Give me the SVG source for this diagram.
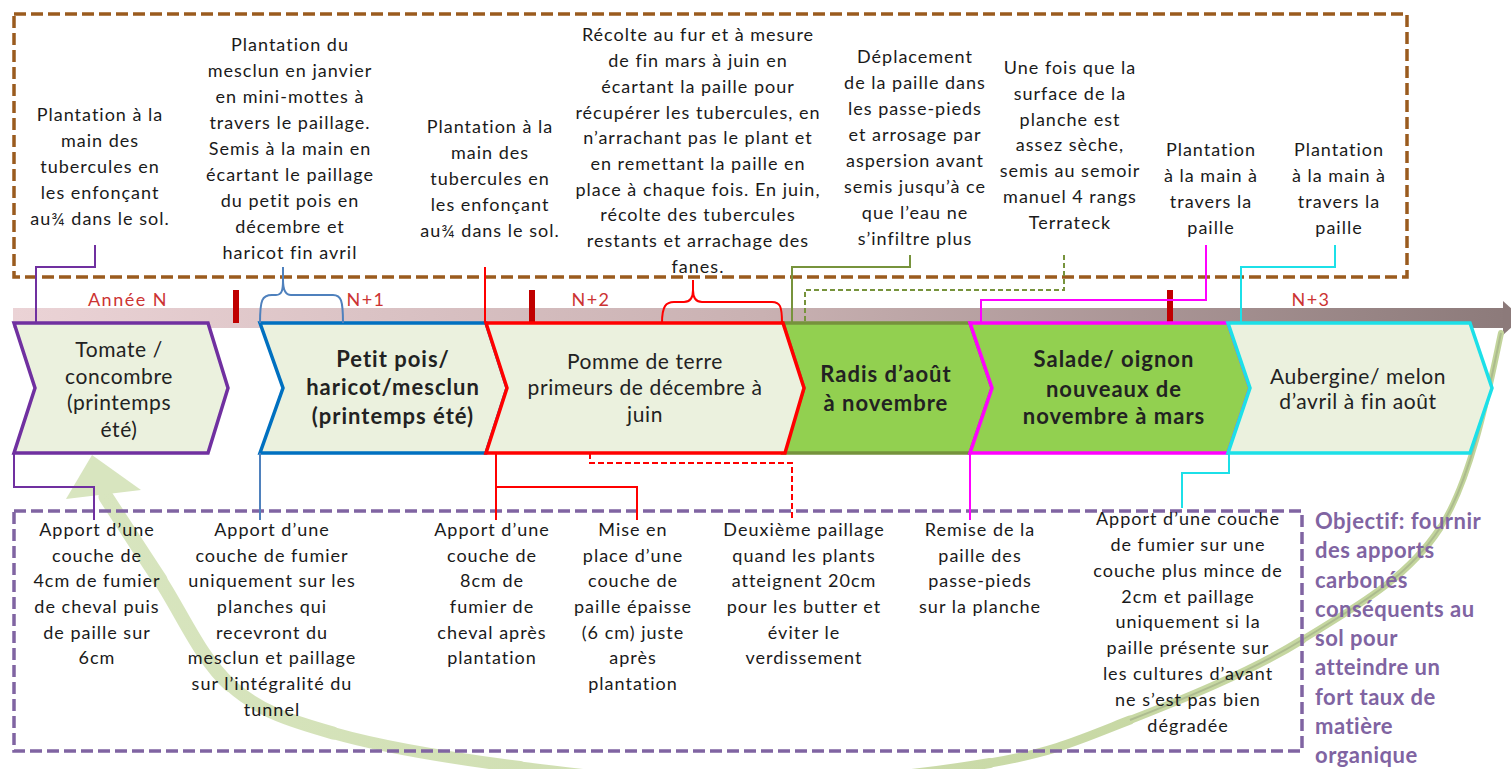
<svg xmlns="http://www.w3.org/2000/svg" width="1511" height="769" viewBox="0 0 1511 769">
<defs>
<linearGradient id="band" x1="13" y1="0" x2="1511" y2="0" gradientUnits="userSpaceOnUse">
<stop offset="0" stop-color="#EBD3D6"/>
<stop offset="0.5" stop-color="#C9B1B2"/>
<stop offset="1" stop-color="#8C7A7A"/>
</linearGradient>
<linearGradient id="curve" x1="100" y1="0" x2="1500" y2="0" gradientUnits="userSpaceOnUse">
<stop offset="0" stop-color="#D8E5BF"/>
<stop offset="1" stop-color="#C2D49B"/>
</linearGradient>
</defs>
<style>
.ann{font-family:Lato,"Liberation Sans",sans-serif;font-size:18px;letter-spacing:1px;fill:#1a1a1a;text-anchor:middle}
.chv{font-family:Lato,"Liberation Sans",sans-serif;font-size:21px;letter-spacing:0.6px;fill:#222;text-anchor:middle}
.chb{font-weight:bold;font-size:22px;letter-spacing:1px}
.year{font-family:Lato,"Liberation Sans",sans-serif;font-size:18px;letter-spacing:1.5px;fill:#CC3333;text-anchor:middle}
.obj{font-family:Lato,"Liberation Sans",sans-serif;font-size:22px;font-weight:bold;letter-spacing:0.5px;fill:#8064A2}
.cv{fill:none;stroke:url(#curve);stroke-linecap:round}
.conn path{fill:none;stroke-width:2}
.chev{stroke-width:3.5;stroke-linejoin:miter}
.light{fill:#EBF1DE}
.green{fill:#92D050}
.box{fill:none;stroke-width:3.5;stroke-dasharray:12 5}
.tick{fill:#C00000}
</style>
<rect x="0" y="0" width="1511" height="769" fill="#ffffff"/>

<!-- timeline band -->
<g id="timeline">
<rect x="13" y="308" width="1492" height="20" fill="url(#band)"/>
<polygon points="1503,301 1522,318 1503,335" fill="#8C7A7A"/>
<rect class="tick" x="233" y="290" width="6" height="33"/>
<rect class="tick" x="529" y="290" width="6" height="33"/>
<rect class="tick" x="1167" y="290" width="6" height="33"/>
<text class="year" x="128" y="306">Année N</text>
<text class="year" x="366" y="306">N+1</text>
<text class="year" x="591" y="306">N+2</text>
<text class="year" x="1311" y="306">N+3</text>
</g>

<!-- green cycle arrow -->
<g id="cycle">
<path class="cv" stroke-width="6" d="M1501,333 C1491,379.3 1473.2,476.8 1440,528"/>
<path class="cv" stroke-width="7" d="M1440,528 C1406.8,579.2 1353.7,608 1302,640"/>
<path class="cv" stroke-width="8" d="M1302,640 C1250.3,672 1182,699.5 1130,720"/>
<path class="cv" stroke-width="9" d="M1130,720 C1078,740.5 1053.3,752.2 990,763"/>
<path class="cv" stroke-width="10" d="M990,763 C926.7,773.8 828.3,784.3 750,785"/>
<path class="cv" stroke-width="11" d="M750,785 C671.7,785.7 589.5,775.7 520,767"/>
<path class="cv" stroke-width="12" d="M520,767 C450.5,758.3 381.3,746.7 333,733"/>
<path class="cv" stroke-width="13" d="M333,733 C284.7,719.3 258.8,710.5 230,685"/>
<path class="cv" stroke-width="14" d="M230,685 C201.2,659.5 180.7,611.3 160,580"/>
<path class="cv" stroke-width="15" d="M160,580 C139.3,548.7 124,524.7 106,497"/>
<path fill="none" stroke="#9DAA84" stroke-width="2" opacity="0.6" d="M1501,333 C1491,379.3 1473.2,476.8 1440,528 C1406.8,579.2 1353.7,608 1302,640 C1250.3,672 1182,699.5 1130,720"/>
<polygon points="92,455 141,490 66,499" fill="#D8E5BF"/>
</g>

<!-- dashed boxes -->
<rect id="box-top" class="box" x="14" y="14" width="1393" height="263" stroke="#9A5B1E"/>
<rect id="box-bottom" class="box" x="14" y="511" width="1288" height="240" stroke="#8064A2"/>

<!-- chevrons -->
<g id="n-tomate">
<polygon class="chev light" stroke="#7030A0" points="14,323 208,323 228,388 208,453 14,453 35,388"/>
<text class="chv"><tspan x="119" y="357">Tomate /</tspan><tspan x="119" y="384">concombre</tspan><tspan x="119" y="410">(printemps</tspan><tspan x="119" y="437">été)</tspan></text>
</g>
<g id="n-petitpois">
<polygon class="chev light" stroke="#0070C0" points="260,323 486,323 507,388 486,453 260,453 283,388"/>
<text class="chv chb"><tspan x="393" y="367">Petit pois/</tspan><tspan x="393" y="395">haricot/mesclun</tspan><tspan x="393" y="424">(printemps été)</tspan></text>
</g>
<g id="n-radis">
<polygon class="chev green" stroke="#76923C" stroke-width="3" points="783,323 970,323 992,388 970,453 783,453 804,388"/>
<text class="chv chb"><tspan x="886" y="382">Radis d’août</tspan><tspan x="886" y="411">à novembre</tspan></text>
</g>
<g id="n-pomme">
<polygon class="chev light" stroke="#FF0000" points="486,323 783,323 804,388 785,453 486,453 507,388"/>
<text class="chv"><tspan x="645" y="369">Pomme de terre</tspan><tspan x="645" y="395">primeurs de décembre à</tspan><tspan x="645" y="422">juin</tspan></text>
</g>
<g id="n-salade">
<polygon class="chev green" stroke="#FF00FF" points="970,323 1228,323 1250,388 1228,453 970,453 992,388"/>
<text class="chv chb"><tspan x="1114" y="367">Salade/ oignon</tspan><tspan x="1114" y="397">nouveaux de</tspan><tspan x="1114" y="424">novembre à mars</tspan></text>
</g>
<g id="n-aubergine">
<polygon class="chev light" stroke="#1CE0E8" points="1228,323 1470,323 1492,388 1470,453 1228,453 1250,388"/>
<text class="chv"><tspan x="1358" y="384">Aubergine/ melon</tspan><tspan x="1358" y="409">d’avril à fin août</tspan></text>
</g>

<!-- connectors -->
<g id="connectors" class="conn">
<path stroke="#7030A0" stroke-width="2.5" d="M95,245 V267 H36 V323"/>
<path stroke="#4F81BD" d="M260,323 C260,300 262,295 272,295 L276,295 C282,295 283,290 283,280 L283,267 M283,280 C283,290 285,295 291,295 L333,295 C341,295 343,300 343,323"/>
<path stroke="#FF0000" d="M485,267 V323"/>
<path stroke="#FF0000" stroke-width="2.5" d="M662,323 C662,306 666,302 674,302 L684,302 C690,302 693,298 693,290 L693,280 M693,290 C693,298 696,302 702,302 L772,302 C780,302 782,306 782,323"/>
<path stroke="#77933C" d="M910,255 V267 H792 V323"/>
<path stroke="#77933C" stroke-dasharray="5 3" d="M1064,255 V290 H805 V323"/>
<path stroke="#FF00FF" d="M1206,245 V300 H981 V323"/>
<path stroke="#1CE0E8" d="M1335,245 V267 H1241 V323"/>
<path stroke="#7030A0" d="M14,453 V487 H94 V520"/>
<path stroke="#4F81BD" d="M260,453 V520"/>
<path stroke="#FF0000" d="M496,453 V520 M496,487 H637 V520"/>
<path stroke="#FF0000" stroke-dasharray="6 3" d="M590,453 V463 H792 V520"/>
<path stroke="#FF00FF" d="M970,453 V520"/>
<path stroke="#1CE0E8" d="M1229,453 V473 H1182 V508"/>
</g>

<!-- top annotations -->
<g id="t-plantation1">
<text class="ann"><tspan x="100" y="121">Plantation à la</tspan><tspan x="100" y="147">main des</tspan><tspan x="100" y="173">tubercules en</tspan><tspan x="100" y="199">les enfonçant</tspan><tspan x="100" y="225">au¾ dans le sol.</tspan></text>
</g>
<g id="t-mesclun">
<text class="ann"><tspan x="290" y="51">Plantation du</tspan><tspan x="290" y="77">mesclun en janvier</tspan><tspan x="290" y="103">en mini-mottes à</tspan><tspan x="290" y="129">travers le paillage.</tspan><tspan x="290" y="155">Semis à la main en</tspan><tspan x="290" y="181">écartant le paillage</tspan><tspan x="290" y="207">du petit pois en</tspan><tspan x="290" y="233">décembre et</tspan><tspan x="290" y="259">haricot fin avril</tspan></text>
</g>
<g id="t-plantation2">
<text class="ann"><tspan x="490" y="133">Plantation à la</tspan><tspan x="490" y="159">main des</tspan><tspan x="490" y="185">tubercules en</tspan><tspan x="490" y="211">les enfonçant</tspan><tspan x="490" y="237">au¾ dans le sol.</tspan></text>
</g>
<g id="t-recolte">
<text class="ann"><tspan x="698" y="41">Récolte au fur et à mesure</tspan><tspan x="698" y="67">de fin mars à juin en</tspan><tspan x="698" y="93">écartant la paille pour</tspan><tspan x="698" y="119">récupérer les tubercules, en</tspan><tspan x="698" y="144">n’arrachant pas le plant et</tspan><tspan x="698" y="170">en remettant la paille en</tspan><tspan x="698" y="196">place à chaque fois. En juin,</tspan><tspan x="698" y="221">récolte des tubercules</tspan><tspan x="698" y="247">restants et arrachage des</tspan><tspan x="698" y="273">fanes.</tspan></text>
</g>
<g id="t-deplacement">
<text class="ann"><tspan x="915" y="63">Déplacement</tspan><tspan x="915" y="89">de la paille dans</tspan><tspan x="915" y="115">les passe-pieds</tspan><tspan x="915" y="141">et arrosage par</tspan><tspan x="915" y="167">aspersion avant</tspan><tspan x="915" y="193">semis jusqu’à ce</tspan><tspan x="915" y="219">que l’eau ne</tspan><tspan x="915" y="245">s’infiltre plus</tspan></text>
</g>
<g id="t-semis">
<text class="ann"><tspan x="1070" y="74">Une fois que la</tspan><tspan x="1070" y="100">surface de la</tspan><tspan x="1070" y="126">planche est</tspan><tspan x="1070" y="151">assez sèche,</tspan><tspan x="1070" y="177">semis au semoir</tspan><tspan x="1070" y="203">manuel 4 rangs</tspan><tspan x="1070" y="229">Terrateck</tspan></text>
</g>
<g id="t-plantation3">
<text class="ann"><tspan x="1211" y="156">Plantation</tspan><tspan x="1211" y="182">à la main à</tspan><tspan x="1211" y="208">travers la</tspan><tspan x="1211" y="234">paille</tspan></text>
</g>
<g id="t-plantation4">
<text class="ann"><tspan x="1339" y="156">Plantation</tspan><tspan x="1339" y="182">à la main à</tspan><tspan x="1339" y="208">travers la</tspan><tspan x="1339" y="234">paille</tspan></text>
</g>

<!-- bottom annotations -->
<g id="b-apport1">
<text class="ann"><tspan x="97" y="536">Apport d’une</tspan><tspan x="97" y="562">couche de</tspan><tspan x="97" y="587">4cm de fumier</tspan><tspan x="97" y="613">de cheval puis</tspan><tspan x="97" y="639">de paille sur</tspan><tspan x="97" y="664">6cm</tspan></text>
</g>
<g id="b-apport2">
<text class="ann"><tspan x="272" y="536">Apport d’une</tspan><tspan x="272" y="562">couche de fumier</tspan><tspan x="272" y="587">uniquement sur les</tspan><tspan x="272" y="613">planches qui</tspan><tspan x="272" y="639">recevront du</tspan><tspan x="272" y="664">mesclun et paillage</tspan><tspan x="272" y="690">sur l’intégralité du</tspan><tspan x="272" y="716">tunnel</tspan></text>
</g>
<g id="b-apport3">
<text class="ann"><tspan x="492" y="536">Apport d’une</tspan><tspan x="492" y="562">couche de</tspan><tspan x="492" y="587">8cm de</tspan><tspan x="492" y="613">fumier de</tspan><tspan x="492" y="639">cheval après</tspan><tspan x="492" y="664">plantation</tspan></text>
</g>
<g id="b-mise">
<text class="ann"><tspan x="633" y="536">Mise en</tspan><tspan x="633" y="562">place d’une</tspan><tspan x="633" y="587">couche de</tspan><tspan x="633" y="613">paille épaisse</tspan><tspan x="633" y="639">(6 cm) juste</tspan><tspan x="633" y="664">après</tspan><tspan x="633" y="690">plantation</tspan></text>
</g>
<g id="b-deuxieme">
<text class="ann"><tspan x="804" y="536">Deuxième paillage</tspan><tspan x="804" y="562">quand les plants</tspan><tspan x="804" y="587">atteignent 20cm</tspan><tspan x="804" y="613">pour les butter et</tspan><tspan x="804" y="639">éviter le</tspan><tspan x="804" y="664">verdissement</tspan></text>
</g>
<g id="b-remise">
<text class="ann"><tspan x="980" y="536">Remise de la</tspan><tspan x="980" y="562">paille des</tspan><tspan x="980" y="587">passe-pieds</tspan><tspan x="980" y="613">sur la planche</tspan></text>
</g>
<g id="b-apport4">
<text class="ann"><tspan x="1188" y="525">Apport d’une couche</tspan><tspan x="1188" y="551">de fumier sur une</tspan><tspan x="1188" y="577">couche plus mince de</tspan><tspan x="1188" y="603">2cm et paillage</tspan><tspan x="1188" y="628">uniquement si la</tspan><tspan x="1188" y="654">paille présente sur</tspan><tspan x="1188" y="680">les cultures d’avant</tspan><tspan x="1188" y="706">ne s’est pas bien</tspan><tspan x="1188" y="732">dégradée</tspan></text>
</g>
<g id="objectif">
<text class="obj"><tspan x="1315" y="529">Objectif: fournir</tspan><tspan x="1315" y="558">des apports</tspan><tspan x="1315" y="588">carbonés</tspan><tspan x="1315" y="617">conséquents au</tspan><tspan x="1315" y="646">sol pour</tspan><tspan x="1315" y="675">atteindre un</tspan><tspan x="1315" y="705">fort taux de</tspan><tspan x="1315" y="734">matière</tspan><tspan x="1315" y="763">organique</tspan></text>
</g>
</svg>
